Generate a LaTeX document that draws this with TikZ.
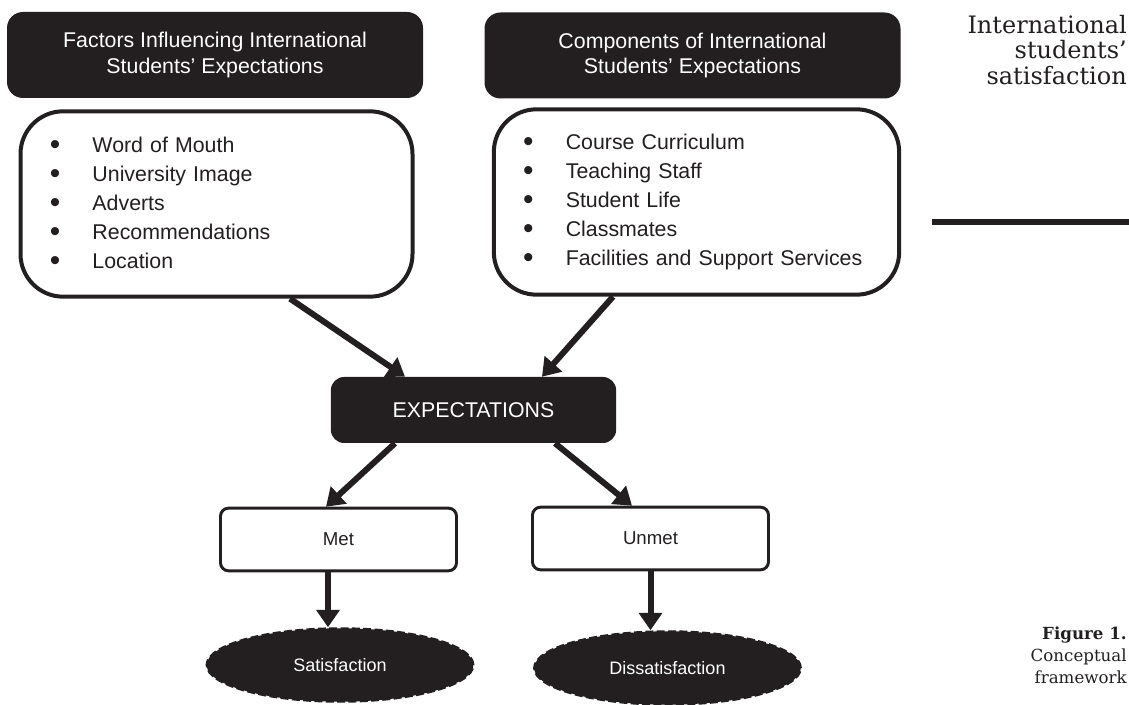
\documentclass[tikz,border=0pt]{standalone}
\usepackage{fontspec}
\setsansfont{Liberation Sans}
\newfontfamily\marginface{DejaVu Serif}
\usepackage{xcolor}
\usepackage{tikz}
\usetikzlibrary{arrows.meta, positioning, calc, shapes.geometric}

\definecolor{ink}{HTML}{231F20}
\newcommand{\bul}[1]{\makebox[32pt][l]{\raisebox{-0.09em}{\scalebox{1.4}{\textbullet}}}#1}

\begin{document}
\begin{tikzpicture}[
    x=0.75pt, y=-0.75pt,
    headbox/.style={rectangle, fill=ink, text=white, rounded corners=12pt, minimum width=312pt, minimum height=64.5pt, inner sep=0pt, align=center, font=\sffamily\fontsize{16}{19.3}\selectfont},
    listbox/.style={rectangle, draw=ink, line width=3pt, fill=white, text=ink, rounded corners=32pt, minimum height=139pt, inner xsep=22pt, align=left, font=\sffamily\fontsize{16}{21.75}\selectfont},
    corebox/.style={rectangle, fill=ink, text=white, rounded corners=10pt, minimum width=214pt, minimum height=49.5pt, font=\sffamily\fontsize{16}{19}\selectfont},
    outbox/.style={rectangle, draw=ink, line width=2.2pt, fill=white, text=ink, rounded corners=6pt, minimum width=177pt, minimum height=47pt, font=\sffamily\fontsize{14}{17}\selectfont},
    resnode/.style={ellipse, fill=ink, draw=ink, dash pattern=on 6pt off 2.5pt, line width=1.6pt, text=white, minimum width=200pt, minimum height=55pt, font=\sffamily\fontsize{13.5}{16}\selectfont},
    arr/.style={draw=ink, line width=4.5pt, -{Triangle[length=13pt, width=17pt]}},
    side/.style={inner sep=0pt, align=right, anchor=north east, text=ink}
  ]
  \useasboundingbox (0,0) rectangle (1129,705);

  % the two input blocks
  \node[headbox] (fachead) at (215,55) {Factors Influencing International\\Students’ Expectations};
  \node[headbox] (comhead) at (692.5,55.5) {Components of International\\Students’ Expectations};
  \node[listbox, text width=250pt] (faclist) at (216.5,204) {\bul{Word of Mouth}\\ \bul{University Image}\\ \bul{Adverts}\\ \bul{Recommendations}\\ \bul{Location}};
  \node[listbox, text width=260pt] (comlist) at (696.5,202) {\bul{Course Curriculum}\\ \bul{Teaching Staff}\\ \bul{Student Life}\\ \bul{Classmates}\\ \bul{Facilities and Support Services}};

  % expectations and outcomes
  \node[corebox] (expect) at (473.5,410) {EXPECTATIONS};
  \node[outbox] (met) at (338.5,539.5) {Met};
  \node[outbox] (unmet) at (650.5,538.5) {Unmet};
  \node[resnode] (sat) at (340,665) {Satisfaction};
  \node[resnode] (dis) at (667.5,668) {Dissatisfaction};

  \draw[arr] ($(faclist.south)+(73.5,0)$) -- ($(expect.north)+(-68.5,0)$);
  \draw[arr] ($(comlist.south)+(-83.5,0)$) -- ($(expect.north)+(68.5,0)$);
  \draw[arr] ($(expect.south)+(-78.5,0)$) -- ($(met.north)+(-12.5,0)$);
  \draw[arr] ($(expect.south)+(81.5,0)$) -- ($(unmet.north)+(-18.5,0)$);
  \coordinate (metout) at ($(met.south)+(-10.5,0)$);
  \draw[arr] (metout) -- (metout |- sat.north);
  \draw[arr] (unmet.south) -- (unmet.south |- dis.north);

  % margin text
  \node[side, font=\marginface\fontsize{18}{19}\selectfont] (title) at (1127,15) {International\\students’\\satisfaction};
  \draw[ink, line width=5pt] (932,222) -- (1129,222);
  \node[side, font=\marginface\fontsize{12.5}{16.5}\selectfont] (caption) at (1127,627) {\textbf{Figure 1.}\\Conceptual\\framework};
\end{tikzpicture}
\end{document}
